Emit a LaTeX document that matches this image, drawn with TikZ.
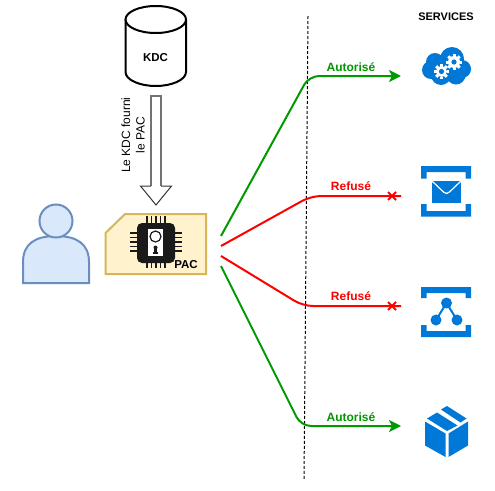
\documentclass[tikz,border=0pt]{standalone}
\usepackage{fontspec}
\setmainfont{Liberation Sans}
\usetikzlibrary{arrows.meta}
\definecolor{azure}{HTML}{0078D7}
\definecolor{grn}{HTML}{009900}
\definecolor{personfill}{HTML}{DAE8FC}
\definecolor{personline}{HTML}{6C8EBF}
\definecolor{cardfill}{HTML}{FFF2CC}
\definecolor{cardline}{HTML}{D6B656}
\definecolor{chip}{HTML}{1A1A1A}
\tikzset{
  lbl/.style={inner sep=0pt,font=\fontsize{12}{14}\selectfont\bfseries},
  title/.style={inner sep=0pt,font=\fontsize{11}{13}\selectfont\bfseries,text=black},
  ok/.style={draw=grn,line width=2pt,rounded corners=10pt},
  ko/.style={draw=red,line width=2pt,rounded corners=10pt},
  okhead/.style={-{Stealth[length=12pt,width=12pt,inset=3pt]}},
  cross/.style={draw=red,line width=2pt},
  pin/.style={draw=chip,line width=2.4pt},
}
\begin{document}
\begin{tikzpicture}[x=1pt,y=-1pt]
\useasboundingbox (0,0) rectangle (495,490);
\fill[white] (0,0) rectangle (495,490);
% divider
\coordinate (divA) at (308,16);
\coordinate (divB) at (304,480);
\draw[black,line width=1pt,dash pattern=on 3pt off 2pt] (divA) -- (divB);
% KDC cylinder
\draw[black,line width=2pt,fill=white] (125.5,19.5) -- (125.5,72) .. controls (125.5,80) and (140,86) .. (155.75,86) .. controls (171.5,86) and (186,80) .. (186,72) -- (186,19.5);
\draw[black,line width=2pt,fill=white] (155.75,19.5) ellipse [x radius=30.25,y radius=13.5];
\node[title,font=\fontsize{11.5}{13}\selectfont\bfseries] (kdc) at (155.5,57.5) {KDC};
% big arrow
\draw[black!55,line width=2pt,fill=white] (151,186) -- (151,96) -- (161,96) -- (161,186);
\draw[black!80,line width=1pt] (151,186) -- (140.5,186) -- (156,205) -- (171.5,186) -- (161,186);
\node[rotate=90,align=center,inner sep=0pt,font=\fontsize{12}{14.5}\selectfont] (flabel) at (133,135) {Le KDC fourni\\le PAC};
% person
\draw[personline,line width=2pt,fill=personfill] (23,283) -- (23,262) .. controls (23,244) and (35,236) .. (56,236) .. controls (77,236) and (89,244) .. (89,262) -- (89,283) -- cycle;
\draw[personline,line width=2pt,fill=personfill] (56,221) circle [radius=16.5];
% PAC card
\draw[cardline,line width=2pt,fill=cardfill] (105.5,233) -- (125,214) -- (206,214) -- (206,274) -- (105.5,274) -- cycle;
\foreach \p in {147,151.5,156,160.5,165} {
  \draw[pin,line width=1.6pt] (\p,216) -- (\p,224);
  \draw[pin,line width=1.6pt] (\p,262) -- (\p,268);
}
\foreach \p in {233,237.5,242,246.5,251} {
  \draw[pin,line width=1.6pt] (130,\p) -- (138,\p);
  \draw[pin,line width=1.6pt] (174,\p) -- (182,\p);
}
\fill[chip,rounded corners=5pt] (137,223) rectangle (175,263);
\fill[white] (148,229) rectangle (163,256);
\draw[chip,line width=1.2pt] (155.5,236.5) circle [radius=5.5];
\fill[chip] (155.5,247.5) circle [radius=2];
\fill[chip] (154.3,247.5) rectangle (156.7,252);
\fill[chip] (153,252) rectangle (158,254);
\node[title,font=\fontsize{11.5}{12}\selectfont\bfseries] (pac) at (186,265) {PAC};
% services title
\node[title] (services) at (446,17) {SERVICES};
% icon 1 cloud
\fill[azure] (452,59) circle [radius=12];
\fill[azure] (435,62) circle [radius=9];
\fill[azure] (431,70) circle [radius=9];
\fill[azure] (441,75) circle [radius=10];
\fill[azure] (456,75) circle [radius=9.5];
\fill[azure] (462,69) circle [radius=9];
\foreach \cx/\cy/\r in {441.5/71.5/5.5,454/62/6} {
  \foreach \a in {0,45,...,315} {
    \fill[white,shift={(\cx,\cy)},rotate=\a] (\r-0.5,-1.5) rectangle (\r+2,1.5);
  }
  \fill[white] (\cx,\cy) circle [radius=\r];
  \fill[azure] (\cx,\cy) circle [radius=2.6];
}
% icon 2 mail
\fill[azure] (421,178.5) -- (421,166) -- (471,166) -- (471,178.5) -- (465.5,178.5) -- (465.5,172) -- (426.5,172) -- (426.5,178.5) -- cycle;
\fill[azure] (421,204) -- (421,216.5) -- (471,216.5) -- (471,204) -- (465.5,204) -- (465.5,211) -- (426.5,211) -- (426.5,204) -- cycle;
\fill[azure] (432,181) rectangle (461,202.5);
\draw[white,line width=1.2pt] (432,181) -- (443.5,192) .. controls (445,194) and (448,194) .. (449.5,192) -- (461,181);
% icon 3 graph
\fill[azure] (421,298) -- (421,287) -- (471,287) -- (471,298) -- (465.5,298) -- (465.5,293) -- (426.5,293) -- (426.5,298) -- cycle;
\fill[azure] (421,325) -- (421,337) -- (471,337) -- (471,325) -- (465.5,325) -- (465.5,331) -- (426.5,331) -- (426.5,325) -- cycle;
\draw[azure,line width=2pt] (436,320) -- (446.5,303) -- (457,320);
\fill[azure] (446.5,303) circle [radius=5.5];
\fill[azure] (436,320) circle [radius=5.5];
\fill[azure] (457,320) circle [radius=5.5];
% icon 4 box
\fill[azure] (425,421.5) -- (445.5,433.5) -- (445.5,457) -- (425,445.5) -- cycle;
\fill[azure] (448.5,433.5) -- (468,421.5) -- (468,445.5) -- (448.5,457) -- cycle;
\fill[azure] (427,418.5) -- (437,412.5) -- (457.5,425.5) -- (447,431) -- cycle;
\fill[azure] (441,409.5) -- (447,406) -- (466.5,418.5) -- (460.5,422.5) -- cycle;
% connectors
\coordinate (a1) at (221,236); \coordinate (b1) at (309,76); \coordinate (c1) at (401,76);
\coordinate (a2) at (221,246); \coordinate (b2) at (311,196); \coordinate (c2) at (401,196);
\coordinate (a3) at (221,256); \coordinate (b3) at (303,306); \coordinate (c3) at (401,306);
\coordinate (a4) at (221,266); \coordinate (b4) at (301,426); \coordinate (c4) at (401,426);
\draw[ok,okhead] (a1) -- (b1) -- (c1);
\draw[ko] (a2) -- (b2) -- (c2);
\draw[ko] (a3) -- (b3) -- (c3);
\draw[ok,okhead] (a4) -- (b4) -- (c4);
\foreach \y in {196,306} {
  \draw[cross] (388,\y-4) -- (396,\y+4);
  \draw[cross] (388,\y+4) -- (396,\y-4);
}
\node[lbl,text=grn] (l1) at (351,67) {Autorisé};
\node[lbl,text=red] (l2) at (351,186) {Refusé};
\node[lbl,text=red] (l3) at (351,296) {Refusé};
\node[lbl,text=grn] (l4) at (351,417) {Autorisé};
\end{tikzpicture}
\end{document}
